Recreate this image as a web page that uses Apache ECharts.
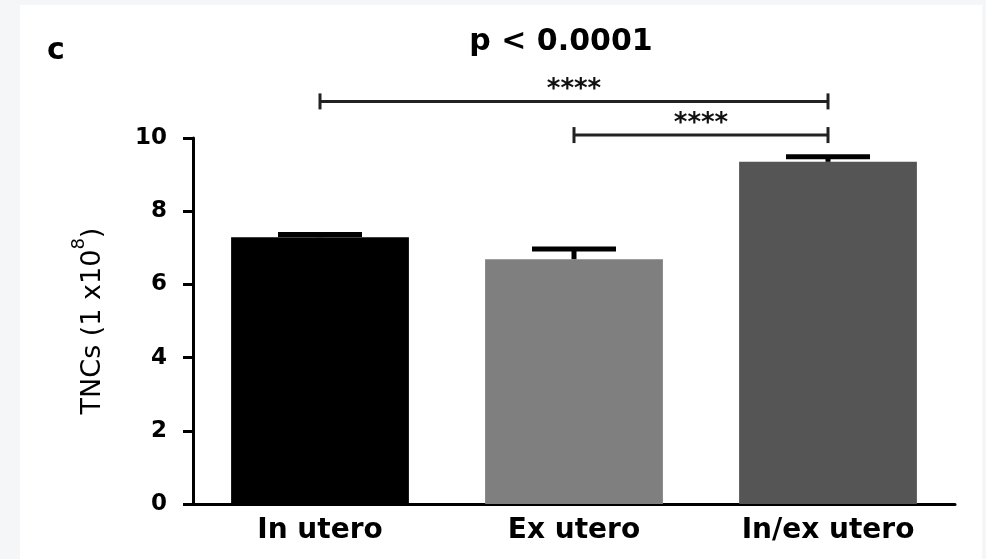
<!DOCTYPE html>
<html>
<head>
<meta charset="utf-8">
<script src="https://cdn.jsdelivr.net/npm/echarts@6/dist/echarts.min.js"></script>
<style>
  html, body { margin: 0; padding: 0; width: 986px; height: 559px; overflow: hidden; background: #f5f6f8; }
  #chart { position: absolute; left: 20px; top: 5px; width: 962px; height: 554px; background: #ffffff; }
</style>
</head>
<body>
<div id="chart"></div>
<script>
// Groups and their mean TNC counts (x10^8) with the upper SEM whisker
const categories = ['In utero', 'Ex utero', 'In/ex utero'];
const means = [7.29, 6.69, 9.35];
const sem = [0.07, 0.28, 0.14];
const barColors = ['#000000', '#7f7f7f', '#555555'];

// Value axis ticks
const yMin = 0;
const yMax = 10;
const yInterval = 2;

// Pairwise comparisons drawn as brackets above the bars
const compareFrom = [0, 1];
const compareTo = [2, 2];
const compareLevel = [11.0, 10.08];
const compareLabel = ['****', '****'];

const FONT = '"DejaVu Sans", "Liberation Sans", sans-serif';

const chart = echarts.init(document.getElementById('chart'), null, { renderer: 'canvas' });

chart.setOption({
  backgroundColor: '#ffffff',
  animation: false,
  grid: { left: 173, right: 27, top: 133, bottom: 55, containLabel: false },
  graphic: [
    {
      type: 'text', left: 27, top: 31,
      style: { text: 'c', font: 'bold 30px ' + FONT, fill: '#000' }
    },
    {
      type: 'text', x: 541, y: 37,
      style: { text: 'p < 0.0001', font: 'bold 30px ' + FONT, fill: '#000', align: 'center', verticalAlign: 'middle' }
    }
  ],
  xAxis: {
    type: 'category',
    data: categories,
    axisLine: { lineStyle: { color: '#000', width: 3 } },
    axisTick: { alignWithLabel: true, length: 9, lineStyle: { color: '#000', width: 3 } },
    axisLabel: { color: '#000', fontFamily: FONT, fontWeight: 'bold', fontSize: 28, margin: 13 }
  },
  yAxis: {
    type: 'value',
    min: yMin, max: yMax, interval: yInterval,
    splitLine: { show: false },
    axisLine: { show: true, lineStyle: { color: '#000', width: 3 } },
    axisTick: { show: true, length: 10, lineStyle: { color: '#000', width: 3 } },
    axisLabel: { color: '#000', fontFamily: FONT, fontWeight: 'bold', fontSize: 23, margin: 26 },
    name: '{a|TNCs (1 x10}{s|8}{a|)}',
    nameLocation: 'middle',
    nameGap: 87,
    nameTextStyle: {
      rich: {
        a: { fontFamily: FONT, fontSize: 27, color: '#000', lineHeight: 36, verticalAlign: 'bottom' },
        s: { fontFamily: FONT, fontSize: 18, color: '#000', lineHeight: 36, verticalAlign: 'top' }
      }
    }
  },
  series: [
    {
      type: 'bar',
      barWidth: '70%',
      data: means.map((v, i) => ({ value: v, itemStyle: { color: barColors[i] } })),
      z: 2
    },
    {
      type: 'custom',
      z: 3,
      data: means.map((m, i) => [i, m, sem[i]]),
      encode: { x: 0, y: 1 },
      renderItem: function (params, api) {
        const i = api.value(0);
        const m = api.value(1);
        const e = api.value(2);
        const base = api.coord([i, m]);
        const top = api.coord([i, m + e]);
        return {
          type: 'group',
          children: [
            { type: 'line', shape: { x1: base[0], y1: base[1], x2: top[0], y2: top[1] },
              style: { stroke: '#000', lineWidth: 5 } },
            { type: 'line', shape: { x1: top[0] - 42, y1: top[1], x2: top[0] + 42, y2: top[1] },
              style: { stroke: '#000', lineWidth: 5 } }
          ]
        };
      }
    },
    {
      type: 'custom',
      z: 4,
      clip: false,
      data: compareFrom.map((f, k) => [f, compareTo[k], compareLevel[k], k]),
      encode: { x: 0, y: 2 },
      renderItem: function (params, api) {
        const a = api.coord([api.value(0), api.value(2)]);
        const b = api.coord([api.value(1), api.value(2)]);
        const k = api.value(3);
        const y = a[1];
        return {
          type: 'group',
          children: [
            { type: 'line', shape: { x1: a[0], y1: y, x2: b[0], y2: y }, style: { stroke: '#222', lineWidth: 3 } },
            { type: 'line', shape: { x1: a[0], y1: y - 8, x2: a[0], y2: y + 8 }, style: { stroke: '#222', lineWidth: 3 } },
            { type: 'line', shape: { x1: b[0], y1: y - 8, x2: b[0], y2: y + 8 }, style: { stroke: '#222', lineWidth: 3 } },
            { type: 'text', x: (a[0] + b[0]) / 2, y: y + 2,
              style: { text: compareLabel[k], fill: '#111', font: 'bold 26px ' + FONT, align: 'center', verticalAlign: 'bottom' } }
          ]
        };
      }
    }
  ]
});
</script>
</body>
</html>
